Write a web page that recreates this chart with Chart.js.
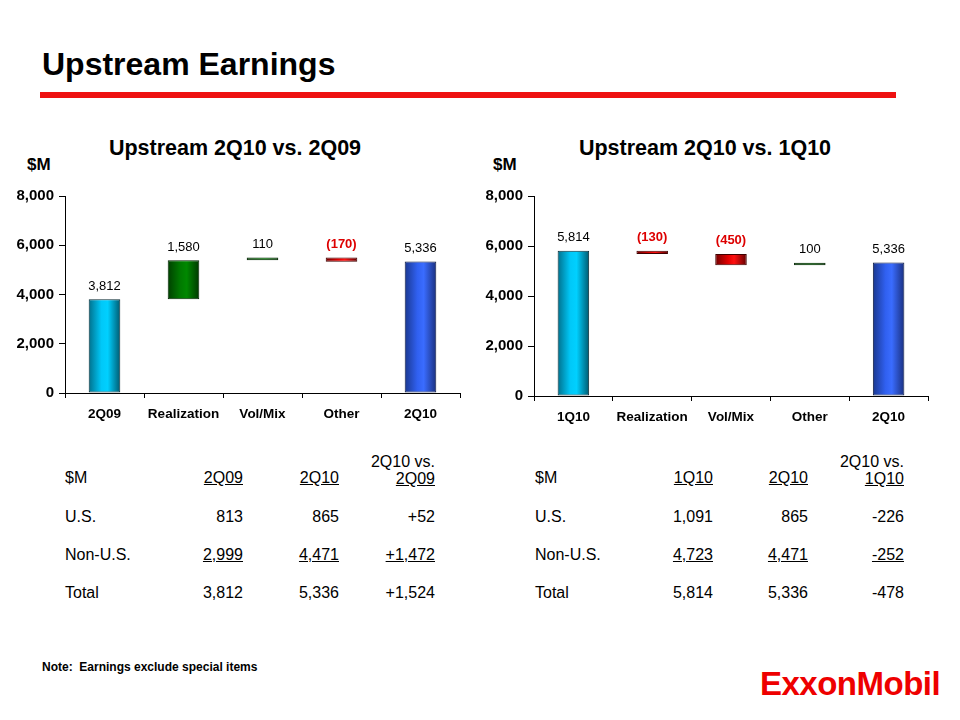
<!DOCTYPE html>
<html>
<head>
<meta charset="utf-8">
<script src="https://cdn.jsdelivr.net/npm/chart.js@4.4.1/dist/chart.umd.min.js"></script>
<style>
    body { margin: 0; background: #fff; font-family: Arial, "Liberation Sans", sans-serif; }
    #page { position: relative; width: 960px; height: 720px; overflow: hidden; }
    .abs { position: absolute; white-space: nowrap; }
    #title { left: 42px; top: 46px; font-size: 32px; font-weight: bold; }
    #rule { left: 40px; top: 92px; width: 856px; height: 6px; background: #ee1111; }
    .ctitle { font-size: 21.5px; font-weight: bold; width: 470px; text-align: center; top: 136px; }
    .unit { font-size: 17px; font-weight: bold; top: 155px; }
    .cbox { position: absolute; top: 180px; width: 470px; height: 250px; }
    table { position: absolute; border-collapse: collapse; font-size: 16px; }
    td { padding: 0; height: 38px; text-align: right; vertical-align: middle; }
    tr.head td { height: 38px; padding-bottom: 11px; vertical-align: bottom; }
    td.lbl { text-align: left; }
    .u { text-decoration: underline; }
    #note { left: 42px; top: 660px; font-size: 12px; font-weight: bold; }
    #logo { left: 760px; top: 665px; font-size: 33px; font-weight: bold; color: #ee0000; letter-spacing: -0.5px; }
</style>
</head>
<body>
<div id="page">
    <div id="title" class="abs">Upstream Earnings</div>
    <div id="rule" class="abs"></div>

    <div class="abs ctitle" style="left:0px">Upstream 2Q10 vs. 2Q09</div>
    <div class="abs unit" style="left:27px">$M</div>
    <div class="cbox" style="left:0px"><canvas id="chart1"></canvas></div>

    <div class="abs ctitle" style="left:470px">Upstream 2Q10 vs. 1Q10</div>
    <div class="abs unit" style="left:493px">$M</div>
    <div class="cbox" style="left:470px; height:253px"><canvas id="chart2"></canvas></div>

    <table id="table1" style="left:65px; top:449px"></table>
    <table id="table2" style="left:535px; top:449px"></table>

    <div id="note" class="abs">Note:&nbsp; Earnings exclude special items</div>
    <div id="logo" class="abs">ExxonMobil</div>
</div>
<script>
"use strict";

let Chart = window.Chart;

// ---- chart data ----
const labels1 = ['2Q09', 'Realization', 'Vol/Mix', 'Other', '2Q10'];
const start1 = 3812;
const steps1 = [1580, 110, -170];
const end1 = 5336;

const labels2 = ['1Q10', 'Realization', 'Vol/Mix', 'Other', '2Q10'];
const start2 = 5814;
const steps2 = [-130, -450, 100];
const end2 = 5336;

const yTicks = [0, 2000, 4000, 6000, 8000];

// ---- table data ----
const rowNames = ['U.S.', 'Non-U.S.', 'Total'];
const cols1 = ['2Q09', '2Q10', '2Q09'];
const rows1 = [
    ['813', '865', '+52'],
    ['2,999', '4,471', '+1,472'],
    ['3,812', '5,336', '+1,524'],
];
const cols2 = ['1Q10', '2Q10', '1Q10'];
const rows2 = [
    ['1,091', '865', '-226'],
    ['4,723', '4,471', '-252'],
    ['5,814', '5,336', '-478'],
];


const gradStops = {
    start: ['#00708c', '#00c8f8', '#00d0ff', '#005a70'],
    end:   ['#1a3890', '#3060f0', '#3a6cff', '#1a3080'],
    up:    ['#004000', '#007a00', '#008800', '#003800'],
    down:  ['#700000', '#e00000', '#ff1010', '#600000'],
};
const edgeColors = {start: '#0a2a33', end: '#0d1a40', up: '#002000', down: '#400000'};

function buildBars(start, steps, end) {
    const bars = [[0, start]];
    const kinds = ['start'];
    const values = [start];
    let level = start;
    steps.forEach(d => {
        bars.push([level, level + d]);
        kinds.push(d >= 0 ? 'up' : 'down');
        values.push(d);
        level += d;
    });
    bars.push([0, end]);
    kinds.push('end');
    values.push(end);
    return {bars, kinds, values};
}

function fmt(v, kind) {
    const s = Math.abs(v).toLocaleString('en-US');
    return kind === 'down' ? '(' + s + ')' : s;
}

function barFill(kinds) {
    return function (ctx) {
        const chart = ctx.chart;
        const xs = chart.scales.x;
        if (!xs || !chart.chartArea) {
            return gradStops[kinds[ctx.dataIndex]][1];
        }
        const cx = xs.getPixelForValue(ctx.dataIndex);
        const half = (chart.chartArea.width / kinds.length) * 0.4 / 2;
        const g = chart.ctx.createLinearGradient(cx - half, 0, cx + half, 0);
        const st = gradStops[kinds[ctx.dataIndex]];
        g.addColorStop(0, st[0]);
        g.addColorStop(0.4, st[1]);
        g.addColorStop(0.6, st[2]);
        g.addColorStop(1, st[3]);
        return g;
    };
}

const valueLabels = {
    id: 'valueLabels',
    afterDatasetsDraw(chart, args, opts) {
        const ctx = chart.ctx;
        const meta = chart.getDatasetMeta(0);
        ctx.save();
        ctx.textAlign = 'center';
        ctx.textBaseline = 'middle';
        meta.data.forEach((el, i) => {
            const kind = opts.kinds[i];
            const top = Math.min(el.y, el.base);
            ctx.fillStyle = kind === 'down' ? '#dd0000' : '#000';
            ctx.font = (kind === 'down' ? 'bold ' : '') + '13px Arial, "Liberation Sans"';
            ctx.fillText(fmt(opts.values[i], kind), el.x, top - 13);
        });
        ctx.restore();
    }
};

function createConfig(labels, data, yWidth, padRight) {
    return {
        type: 'bar',
        data: {
            labels,
            datasets: [{
                data: data.bars,
                backgroundColor: barFill(data.kinds),
                borderColor: data.kinds.map(k => edgeColors[k]),
                borderWidth: 1,
                borderSkipped: false,
                barPercentage: 0.4,
                categoryPercentage: 1,
            }],
        },
        options: {
            responsive: true,
            maintainAspectRatio: false,
            animation: false,
            layout: {padding: {top: 16, right: padRight, bottom: 0, left: 0}},
            plugins: {
                legend: {display: false},
                tooltip: {enabled: false},
                valueLabels: {kinds: data.kinds, values: data.values},
            },
            scales: {
                x: {
                    grid: {
                        offset: true,
                        drawOnChartArea: false,
                        color: '#000',
                        tickLength: 5,
                    },
                    border: {color: '#000', width: 1},
                    ticks: {
                        color: '#000',
                        font: {size: 13.5, weight: 'bold', family: 'Arial, "Liberation Sans"'},
                        padding: 8,
                    },
                    afterFit(scale) { scale.height = 37; },
                },
                y: {
                    min: 0,
                    max: 8000,
                    afterBuildTicks(scale) { scale.ticks = yTicks.map(v => ({value: v})); },
                    grid: {
                        drawOnChartArea: false,
                        color: '#000',
                        tickLength: 6,
                    },
                    border: {color: '#000', width: 1},
                    ticks: {
                        color: '#000',
                        font: {size: 15, weight: 'bold', family: 'Arial, "Liberation Sans"'},
                        padding: 5,
                        callback: v => v.toLocaleString('en-US'),
                    },
                    afterFit(scale) { scale.width = yWidth; },
                },
            },
        },
        plugins: [valueLabels],
    };
}

function fillTable(id, cols, rows, widths) {
    const t = document.getElementById(id);
    let html = '<colgroup>' + widths.map(w => '<col style="width:' + w + 'px">').join('') + '</colgroup>';
    html += '<tr class="head"><td class="lbl">$M</td>' +
        '<td><span class="u">' + cols[0] + '</span></td>' +
        '<td><span class="u">' + cols[1] + '</span></td>' +
        '<td style="line-height:17px">2Q10 vs.<br><span class="u">' + cols[2] + '</span></td></tr>';
    rows.forEach((r, i) => {
        const cls = i === 1 ? 'u' : '';
        html += '<tr><td class="lbl">' + rowNames[i] + '</td>' +
            r.map(v => '<td><span class="' + cls + '">' + v + '</span></td>').join('') + '</tr>';
    });
    t.innerHTML = html;
}

fillTable('table1', cols1, rows1, [80, 98, 96, 96]);
fillTable('table2', cols2, rows2, [80, 98, 95, 96]);

new Chart(document.getElementById('chart1'), createConfig(labels1, buildBars(start1, steps1, end1), 65, 10));
new Chart(document.getElementById('chart2'), createConfig(labels2, buildBars(start2, steps2, end2), 64, 12));
</script>
</body>
</html>
